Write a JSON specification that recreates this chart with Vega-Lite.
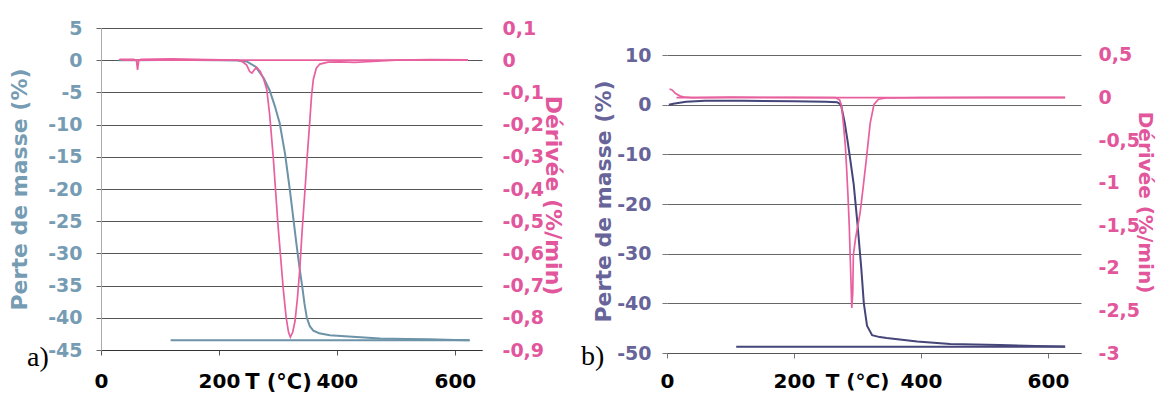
{
  "$schema": "https://vega.github.io/schema/vega-lite/v6.json",
  "background": "white",
  "padding": {"left": 8, "top": 19, "right": 3, "bottom": 0},
  "bounds": "flush",
  "spacing": 185,
  "config": {
    "view": {"stroke": null},
    "font": "DejaVu Sans",
    "locale": {"number": {"decimal": ",", "thousands": " ", "grouping": [3], "currency": ["", " €"], "minus": "-"}},
    "axis": {"labelFont": "DejaVu Sans", "titleFont": "DejaVu Sans", "labelFontWeight": "bold", "titleFontWeight": "bold"}
  },
  "datasets": {
    "massA": [
      {"seg": "h", "T": 30, "m": 0}, {"seg": "h", "T": 60, "m": 0}, {"seg": "h", "T": 100, "m": 0.05}, {"seg": "h", "T": 150, "m": 0.05},
      {"seg": "h", "T": 200, "m": 0}, {"seg": "h", "T": 230, "m": -0.05}, {"seg": "h", "T": 247, "m": -0.2}, {"seg": "h", "T": 262, "m": -1.0},
      {"seg": "h", "T": 276, "m": -2.8}, {"seg": "h", "T": 286, "m": -4.7}, {"seg": "h", "T": 295, "m": -7.2}, {"seg": "h", "T": 303, "m": -9.8},
      {"seg": "h", "T": 312, "m": -14.5}, {"seg": "h", "T": 320, "m": -20}, {"seg": "h", "T": 326, "m": -24.5}, {"seg": "h", "T": 332, "m": -29},
      {"seg": "h", "T": 337, "m": -32.5}, {"seg": "h", "T": 341, "m": -35}, {"seg": "h", "T": 345, "m": -37.8}, {"seg": "h", "T": 349, "m": -40},
      {"seg": "h", "T": 354, "m": -41.3}, {"seg": "h", "T": 360, "m": -42}, {"seg": "h", "T": 370, "m": -42.4}, {"seg": "h", "T": 388, "m": -42.7},
      {"seg": "h", "T": 420, "m": -42.9}, {"seg": "h", "T": 473, "m": -43.2}, {"seg": "h", "T": 520, "m": -43.3}, {"seg": "h", "T": 557, "m": -43.35},
      {"seg": "h", "T": 600, "m": -43.45}, {"seg": "h", "T": 625, "m": -43.5},
      {"seg": "c", "T": 118, "m": -43.5}, {"seg": "c", "T": 625, "m": -43.5}
    ],
    "derA": [
      {"seg": "h", "T": 31, "d": 0.003}, {"seg": "h", "T": 55, "d": 0.003}, {"seg": "h", "T": 60, "d": 0.0}, {"seg": "h", "T": 62, "d": -0.03},
      {"seg": "h", "T": 64, "d": 0.0}, {"seg": "h", "T": 68, "d": 0.003}, {"seg": "h", "T": 120, "d": 0.004}, {"seg": "h", "T": 180, "d": 0.002},
      {"seg": "h", "T": 232, "d": 0}, {"seg": "h", "T": 240, "d": -0.005}, {"seg": "h", "T": 247, "d": -0.015}, {"seg": "h", "T": 252, "d": -0.035},
      {"seg": "h", "T": 256, "d": -0.04}, {"seg": "h", "T": 260, "d": -0.03}, {"seg": "h", "T": 264, "d": -0.022}, {"seg": "h", "T": 270, "d": -0.035},
      {"seg": "h", "T": 276, "d": -0.06}, {"seg": "h", "T": 281, "d": -0.09}, {"seg": "h", "T": 286, "d": -0.17}, {"seg": "h", "T": 292, "d": -0.30},
      {"seg": "h", "T": 300, "d": -0.51}, {"seg": "h", "T": 309, "d": -0.71}, {"seg": "h", "T": 314, "d": -0.80}, {"seg": "h", "T": 318, "d": -0.845},
      {"seg": "h", "T": 321, "d": -0.86}, {"seg": "h", "T": 325, "d": -0.845}, {"seg": "h", "T": 329, "d": -0.81}, {"seg": "h", "T": 333, "d": -0.74},
      {"seg": "h", "T": 337, "d": -0.65}, {"seg": "h", "T": 341, "d": -0.53}, {"seg": "h", "T": 346, "d": -0.40}, {"seg": "h", "T": 350, "d": -0.29},
      {"seg": "h", "T": 354, "d": -0.19}, {"seg": "h", "T": 357, "d": -0.11}, {"seg": "h", "T": 360, "d": -0.06}, {"seg": "h", "T": 365, "d": -0.025},
      {"seg": "h", "T": 371, "d": -0.012}, {"seg": "h", "T": 385, "d": -0.006}, {"seg": "h", "T": 405, "d": -0.005}, {"seg": "h", "T": 430, "d": -0.007},
      {"seg": "h", "T": 460, "d": -0.004}, {"seg": "h", "T": 500, "d": 0}, {"seg": "h", "T": 560, "d": 0.002}, {"seg": "h", "T": 622, "d": 0.001},
      {"seg": "c", "T": 35, "d": 0.0}, {"seg": "c", "T": 622, "d": 0.0}
    ],
    "massB": [
      {"seg": "h", "T": 3, "m": 0.0}, {"seg": "h", "T": 10, "m": 0.2}, {"seg": "h", "T": 30, "m": 0.6}, {"seg": "h", "T": 60, "m": 0.8},
      {"seg": "h", "T": 120, "m": 0.8}, {"seg": "h", "T": 200, "m": 0.7}, {"seg": "h", "T": 250, "m": 0.6}, {"seg": "h", "T": 268, "m": 0.5},
      {"seg": "h", "T": 274, "m": 0.0}, {"seg": "h", "T": 280, "m": -3.7}, {"seg": "h", "T": 284, "m": -7}, {"seg": "h", "T": 288, "m": -10.5},
      {"seg": "h", "T": 294, "m": -16}, {"seg": "h", "T": 300, "m": -24}, {"seg": "h", "T": 306, "m": -33}, {"seg": "h", "T": 310, "m": -40},
      {"seg": "h", "T": 315, "m": -44.5}, {"seg": "h", "T": 323, "m": -46.4}, {"seg": "h", "T": 335, "m": -46.8}, {"seg": "h", "T": 346, "m": -47.0},
      {"seg": "h", "T": 394, "m": -47.7}, {"seg": "h", "T": 446, "m": -48.2}, {"seg": "h", "T": 524, "m": -48.4}, {"seg": "h", "T": 580, "m": -48.6},
      {"seg": "h", "T": 627, "m": -48.7},
      {"seg": "c", "T": 109, "m": -48.75}, {"seg": "c", "T": 627, "m": -48.75}
    ],
    "derB": [
      {"seg": "h", "T": 4, "d": 0.1}, {"seg": "h", "T": 8, "d": 0.09}, {"seg": "h", "T": 13, "d": 0.05}, {"seg": "h", "T": 20, "d": 0.02},
      {"seg": "h", "T": 28, "d": 0.004}, {"seg": "h", "T": 40, "d": 0.0}, {"seg": "h", "T": 100, "d": 0.005}, {"seg": "h", "T": 200, "d": 0.002},
      {"seg": "h", "T": 265, "d": 0}, {"seg": "h", "T": 272, "d": -0.03}, {"seg": "h", "T": 275, "d": -0.1}, {"seg": "h", "T": 278, "d": -0.32},
      {"seg": "h", "T": 281, "d": -0.58}, {"seg": "h", "T": 283, "d": -0.85}, {"seg": "h", "T": 285, "d": -1.15}, {"seg": "h", "T": 287, "d": -1.5},
      {"seg": "h", "T": 289.5, "d": -2.1}, {"seg": "h", "T": 291, "d": -2.47}, {"seg": "h", "T": 292.5, "d": -2.3}, {"seg": "h", "T": 293.5, "d": -1.85},
      {"seg": "h", "T": 297, "d": -1.65}, {"seg": "h", "T": 304, "d": -1.36}, {"seg": "h", "T": 309, "d": -1.05}, {"seg": "h", "T": 314, "d": -0.72},
      {"seg": "h", "T": 320, "d": -0.3}, {"seg": "h", "T": 326, "d": -0.08}, {"seg": "h", "T": 333, "d": -0.02}, {"seg": "h", "T": 345, "d": -0.005},
      {"seg": "h", "T": 400, "d": 0.0}, {"seg": "h", "T": 500, "d": 0.003}, {"seg": "h", "T": 627, "d": 0.002},
      {"seg": "c", "T": 15, "d": 0.0}, {"seg": "c", "T": 627, "d": 0.0}
    ],
    "labA": [{"T": -107, "m": -47.5, "label": "a)"}],
    "labB": [{"T": -117, "m": -52.4, "label": "b)"}]
  },
  "hconcat": [
    {
      "width": 381,
      "height": 322,
      "encoding": {
        "x": {
          "field": "T", "type": "quantitative",
          "scale": {"domain": [0, 646], "nice": false, "zero": false},
          "axis": {
            "values": [0, 200, 400, 600], "grid": false,
            "title": "T (°C)", "titleX": 177, "titleY": 21, "titleBaseline": "top", "titleAlign": "center",
            "titleFontSize": 21, "titleColor": "black",
            "labelFontSize": 20, "labelColor": "black", "labelPadding": 16, "labelFlush": false, "labelOverlap": false,
            "tickSize": 5, "tickColor": "#555", "domainColor": "#333"
          }
        }
      },
      "layer": [
        {
          "encoding": {
            "y": {
              "field": "m", "type": "quantitative",
              "scale": {"domain": [-45, 5], "nice": false, "zero": false},
              "axis": {
                "values": [5, 0, -5, -10, -15, -20, -25, -30, -35, -40, -45], "format": "~r",
                "title": "Perte de masse (%)", "titleX": -82, "titleBaseline": "middle",
                "titleFontSize": 22, "titleColor": "#769cb4",
                "labelFontSize": 19, "labelColor": "#769cb4", "labelPadding": 14,
                "tickSize": 5, "tickColor": "#666", "domainColor": "#aaa",
                "grid": true, "gridColor": "#555", "gridWidth": 1
              }
            }
          },
          "layer": [
            {
              "data": {"name": "massA"},
              "mark": {"type": "line", "color": "#6d93a8", "strokeWidth": 2},
              "encoding": {"detail": {"field": "seg"}}
            },
            {
              "data": {"name": "labA"},
              "mark": {"type": "text", "font": "Liberation Serif", "fontSize": 28, "align": "center", "baseline": "alphabetic", "color": "black"},
              "encoding": {"text": {"field": "label"}}
            }
          ]
        },
        {
          "data": {"name": "derA"},
          "mark": {"type": "line", "color": "#e8609e", "strokeWidth": 1.7},
          "encoding": {
            "y": {
              "field": "d", "type": "quantitative",
              "scale": {"domain": [-0.9, 0.1], "nice": false, "zero": false},
              "axis": {
                "orient": "right",
                "values": [0.1, 0, -0.1, -0.2, -0.3, -0.4, -0.5, -0.6, -0.7, -0.8, -0.9], "format": "~r",
                "title": "Dérivée (%/min)", "titleAngle": 90, "titleX": 70, "titleY": 167, "titleBaseline": "middle",
                "titleFontSize": 22, "titleColor": "#e2569c",
                "labelFontSize": 19, "labelColor": "#e2569c", "labelPadding": 20,
                "tickSize": 0, "domain": false, "grid": false
              }
            },
            "detail": {"field": "seg"}
          }
        }
      ],
      "resolve": {"scale": {"y": "independent"}, "axis": {"y": "independent"}}
    },
    {
      "width": 414,
      "height": 325,
      "encoding": {
        "x": {
          "field": "T", "type": "quantitative",
          "scale": {"domain": [0, 652], "nice": false, "zero": false},
          "axis": {
            "values": [0, 200, 400, 600], "grid": false,
            "title": "T (°C)", "titleX": 190, "titleY": 18, "titleBaseline": "top", "titleAlign": "center",
            "titleFontSize": 20, "titleColor": "black",
            "labelFontSize": 20, "labelColor": "black", "labelPadding": 13, "labelFlush": false, "labelOverlap": false,
            "tickSize": 5, "tickColor": "#777", "domainColor": "#555"
          }
        }
      },
      "layer": [
        {
          "encoding": {
            "y": {
              "field": "m", "type": "quantitative",
              "scale": {"domain": [-50, 15.44], "nice": false, "zero": false},
              "axis": {
                "values": [10, 0, -10, -20, -30, -40, -50], "format": "~r",
                "title": "Perte de masse (%)", "titleX": -64, "titleY": 173, "titleBaseline": "middle",
                "titleFontSize": 22, "titleColor": "#67649a",
                "labelFontSize": 19, "labelColor": "#67649a", "labelPadding": 11,
                "tickSize": 5, "tickColor": "#777", "domain": false,
                "grid": true, "gridColor": "#666", "gridWidth": 1
              }
            }
          },
          "layer": [
            {
              "mark": {"type": "rule", "color": "#aaa", "strokeWidth": 1},
              "encoding": {"x": {"datum": 0}, "y": {"datum": -50}, "y2": {"datum": 10}}
            },
            {
              "data": {"name": "massB"},
              "mark": {"type": "line", "color": "#45457a", "strokeWidth": 2},
              "encoding": {"detail": {"field": "seg"}}
            },
            {
              "data": {"name": "labB"},
              "mark": {"type": "text", "font": "Liberation Serif", "fontSize": 28, "align": "center", "baseline": "alphabetic", "color": "black"},
              "encoding": {"text": {"field": "label"}}
            }
          ]
        },
        {
          "data": {"name": "derB"},
          "mark": {"type": "line", "color": "#e8609e", "strokeWidth": 1.7},
          "encoding": {
            "y": {
              "field": "d", "type": "quantitative",
              "scale": {"domain": [-3, 0.817], "nice": false, "zero": false},
              "axis": {
                "orient": "right",
                "values": [0.5, 0, -0.5, -1, -1.5, -2, -2.5, -3], "format": "~r",
                "title": "Dérivée (%/min)", "titleAngle": 90, "titleX": 63, "titleY": 174, "titleBaseline": "middle",
                "titleFontSize": 20, "titleColor": "#e2569c",
                "labelFontSize": 19, "labelColor": "#e2569c", "labelPadding": 17,
                "tickSize": 0, "domain": false, "grid": false
              }
            },
            "detail": {"field": "seg"}
          }
        }
      ],
      "resolve": {"scale": {"y": "independent"}, "axis": {"y": "independent"}}
    }
  ]
}
